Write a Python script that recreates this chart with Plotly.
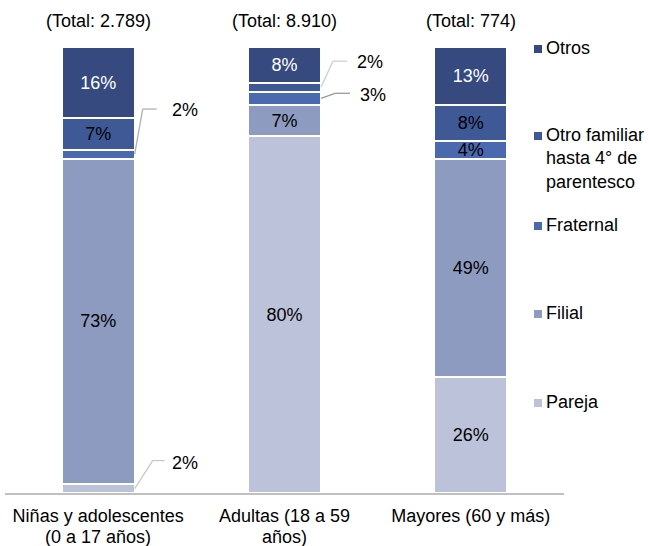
import plotly.graph_objects as go

# ---------------- data ----------------
category_line1 = ["Niñas y adolescentes", "Adultas (18 a 59", "Mayores (60 y más)"]
category_line2 = ["(0 a 17 años)", "años)", ""]
totals = ["(Total: 2.789)", "(Total: 8.910)", "(Total: 774)"]
series_names = ["Pareja", "Filial", "Fraternal",
                "Otro familiar<br>hasta 4° de<br>parentesco", "Otros"]
pareja = [2, 80, 26]
filial = [73, 7, 49]
fraternal = [2, 3, 4]
otro_familiar = [7, 2, 8]
otros = [16, 8, 13]
values = [pareja, filial, fraternal, otro_familiar, otros]

colors = ["#bcc2da", "#8e9bc1", "#4a69ae", "#3f5997", "#364a7f"]
text_colors = ["#000000", "#000000", "#000000", "#000000", "#ffffff"]
FONT = "Liberation Sans, Arial, sans-serif"
FS = 18

# which segments get an outside leader label (series index, category index)
outside = {(2, 0), (0, 0), (3, 1), (2, 1)}

W, H = 649, 546
L, R, T, B = 5, 85, 47, 53
BARW = 0.392

fig = go.Figure()
xs = [0, 1, 2]
for s, (name, vals) in enumerate(zip(series_names, values)):
    txt = ["" if (s, c) in outside else f"{v}%" for c, v in enumerate(vals)]
    fig.add_trace(go.Bar(
        x=xs, y=vals, name=name.replace("<br>", " "), width=BARW,
        marker=dict(color=colors[s], line=dict(color="white", width=2)),
        text=txt, textposition="inside", insidetextanchor="middle",
        textangle=0, constraintext="none",
        textfont=dict(family=FONT, size=FS, color=text_colors[s]),
        hoverinfo="skip", showlegend=False,
    ))

# outside labels with elbow leader lines (pixel offsets from segment)
leaders = [
    # series, cat, elbow dx, elbow dy(up), end dx, label dx, label dy, color
    (2, 0, 8, 45, 22, 35, 44, "#b0b0b0"),
    (0, 0, 18, 28, 30, 35, 26, "#c8c8c8"),
    (3, 1, 12, 26, 26, 34, 25, "#d0d0d0"),
    (2, 1, 14, 5, 29, 37, 3, "#9a9a9a"),
]
shapes = []
annotations = []
for s, c, ex, ey, endx, lx, ly, col in leaders:
    base = sum(values[k][c] for k in range(s))
    mid = base + values[s][c] / 2
    xa = c + BARW / 2
    for (a0, b0, a1, b1) in [(0, 0, ex, ey), (ex, ey, endx, ey)]:
        shapes.append(dict(type="line", xref="x", yref="y",
                           xsizemode="pixel", ysizemode="pixel",
                           xanchor=xa, yanchor=mid,
                           x0=a0, y0=b0, x1=a1, y1=b1,
                           line=dict(color=col, width=1.3)))
    annotations.append(dict(x=xa, y=mid, xref="x", yref="y",
                            text=f"{values[s][c]}%", showarrow=False,
                            xanchor="left", yanchor="middle",
                            xshift=lx, yshift=ly,
                            font=dict(family=FONT, size=FS, color="#000")))

# totals above bars
for c, t in enumerate(totals):
    annotations.append(dict(x=c, y=100, xref="x", yref="y", text=t,
                            showarrow=False, yanchor="middle", yshift=26,
                            font=dict(family=FONT, size=FS, color="#000")))

pw = W - L - R
ph = H - T - B
def px2x(px):
    return (px - L) / pw
def py2y(py):
    return (H - B - py) / ph

# second line of the category labels (tighter line spacing than <br>)
for c, t in enumerate(category_line2):
    if t:
        annotations.append(dict(x=c, y=py2y(537), xref="x", yref="paper",
                                text=t, showarrow=False, yanchor="middle",
                                borderpad=0,
                                font=dict(family=FONT, size=FS, color="#000")))

# manual legend
legend_y = [49, 136, 226, 314, 403]  # Otros .. Pareja (first-line centres)
for k, s in enumerate([4, 3, 2, 1, 0]):
    cy = legend_y[k]
    shapes.append(dict(type="rect", xref="paper", yref="paper",
                       x0=px2x(534), x1=px2x(542),
                       y0=py2y(cy + 4), y1=py2y(cy - 4),
                       fillcolor=colors[s], line=dict(width=0)))
    annotations.append(dict(x=px2x(545), y=py2y(cy - 12), xref="paper",
                            yref="paper", text=series_names[s],
                            showarrow=False, xanchor="left", yanchor="top",
                            align="left", borderpad=0,
                            font=dict(family=FONT, size=FS, color="#000")))

fig.update_layout(
    barmode="stack",
    width=W, height=H,
    margin=dict(l=L, r=R, t=T, b=B),
    paper_bgcolor="white", plot_bgcolor="white",
    xaxis=dict(range=[-0.5, 2.5], tickvals=xs, ticktext=category_line1,
               showgrid=False, zeroline=False, showline=True,
               linecolor="#c0c0c0", linewidth=1.5, ticks="",
               ticklabelstandoff=6, automargin=False,
               tickfont=dict(family=FONT, size=FS, color="#000")),
    yaxis=dict(range=[0, 100], visible=False, showgrid=False,
               automargin=False),
    shapes=shapes, annotations=annotations,
    showlegend=False,
)

fig.write_html("out.html",
               config={"displayModeBar": False},
               post_script="document.body.style.margin='0';"
                           "document.body.style.overflow='hidden';")
